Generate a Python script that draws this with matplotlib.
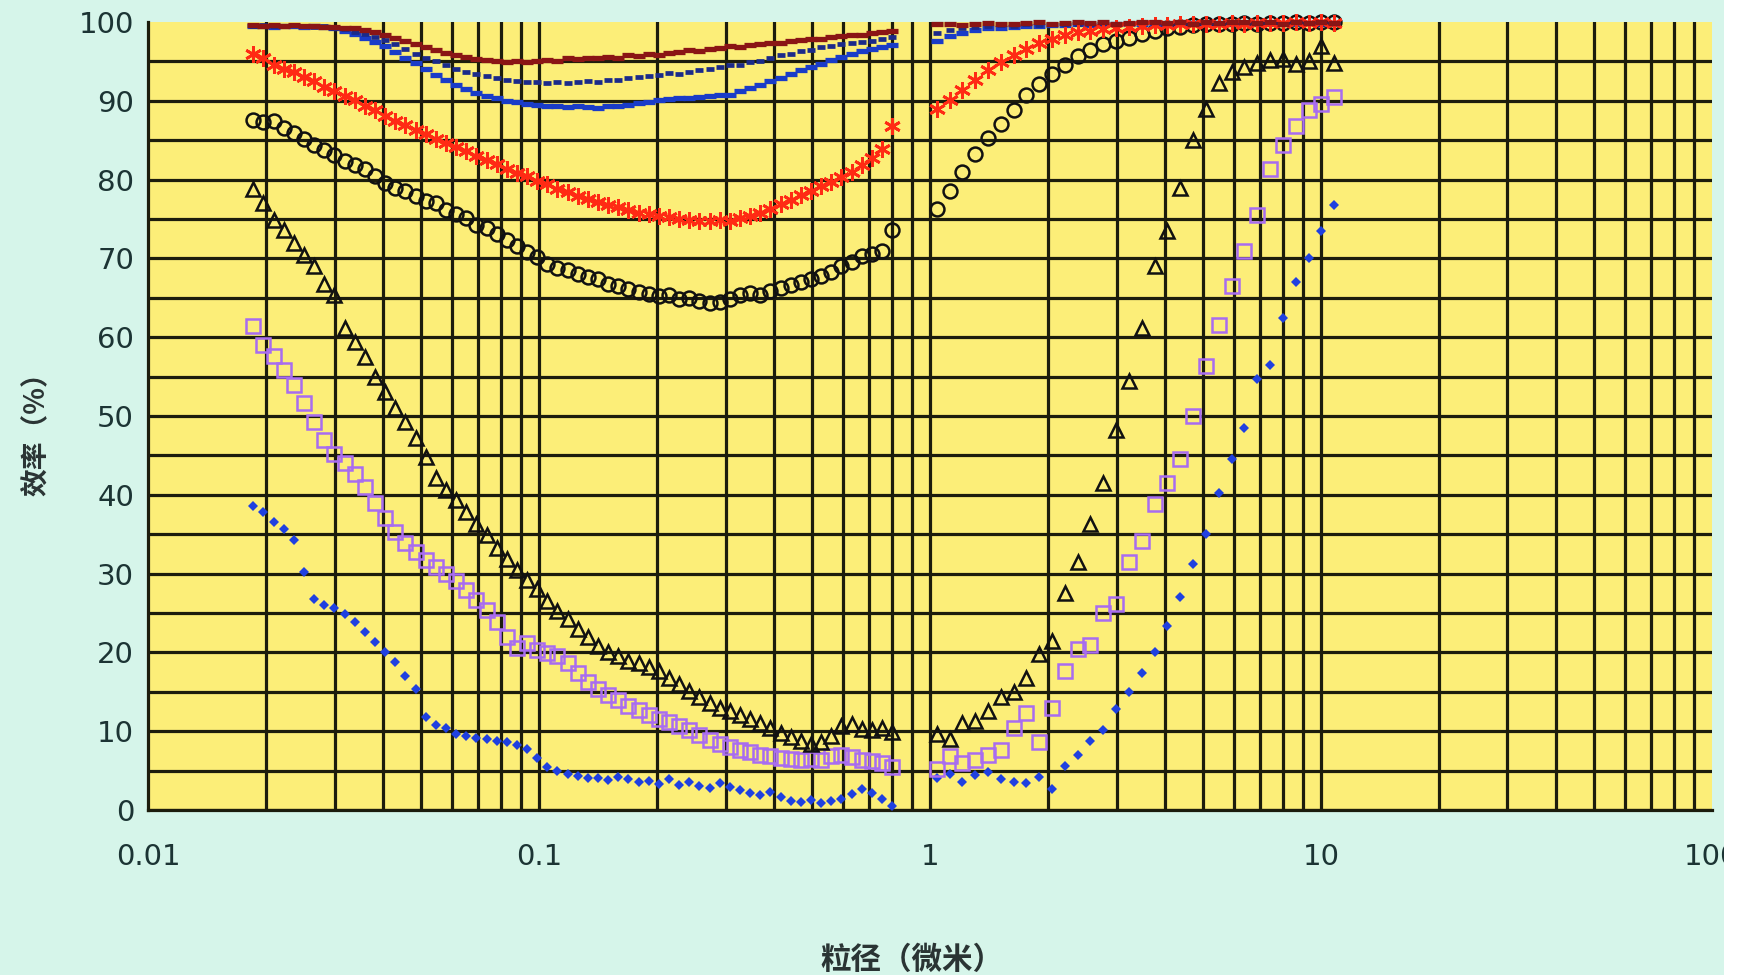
#!/usr/bin/env python3
"""Filter efficiency vs particle size (log x), 8 measured series."""
import matplotlib
matplotlib.use("Agg")
import matplotlib.pyplot as plt
from matplotlib.patches import Rectangle
import numpy as np

# ---------------------------------------------------------------------------
# data
# ---------------------------------------------------------------------------
# left instrument channels (um)
X_LEFT = [0.01860, 0.01974, 0.02096, 0.02225, 0.02362, 0.02507, 0.02661, 0.02825,
          0.02998, 0.03183, 0.03379, 0.03587, 0.03807, 0.04041, 0.04290, 0.04554,
          0.04834, 0.05131, 0.05447, 0.05782, 0.06138, 0.06516, 0.06918, 0.07343,
          0.07795, 0.08275, 0.08784, 0.09324, 0.09899, 0.1051, 0.1115, 0.1184,
          0.1257, 0.1334, 0.1416, 0.1503, 0.1596, 0.1694, 0.1798, 0.1909,
          0.2026, 0.2151, 0.2283, 0.2424, 0.2573, 0.2731, 0.2900, 0.3078,
          0.3267, 0.3468, 0.3682, 0.3908, 0.4149, 0.4404, 0.4675, 0.4962,
          0.5268, 0.5592, 0.5936, 0.6301, 0.6689, 0.7101, 0.7538, 0.8001]
# right instrument channels (um)
X_RIGHT = [1.040, 1.122, 1.209, 1.304, 1.406, 1.517, 1.636, 1.764,
           1.902, 2.052, 2.213, 2.387, 2.574, 2.776, 2.994, 3.228,
           3.482, 3.755, 4.050, 4.367, 4.710, 5.080, 5.478, 5.908,
           6.372, 6.871, 7.411, 7.992, 8.619, 9.296, 10.02, 10.81]

maroon_left = [99.6, 99.5, 99.6, 99.5, 99.6, 99.5, 99.5, 99.4, 99.4, 99.3, 99.2, 99.0,
               98.7, 98.4, 98.0, 97.6, 97.2, 96.8, 96.5, 96.1, 95.8, 95.6, 95.3, 95.2,
               95.0, 94.9, 95.0, 94.9, 95.1, 95.2, 95.1, 95.4, 95.3, 95.5, 95.4, 95.6,
               95.5, 95.8, 95.7, 95.9, 95.8, 96.1, 96.2, 96.4, 96.3, 96.6, 96.7, 96.9,
               96.8, 97.1, 97.2, 97.4, 97.3, 97.6, 97.7, 97.9, 97.8, 98.1, 98.2, 98.4,
               98.3, 98.6, 98.7, 98.9]
maroon_right = [99.7, 99.8, 99.6, 99.8, 99.9, 99.7, 99.8, 99.9, 100, 99.8, 99.9, 100,
                99.9, 100, 99.8, 99.9, 100, 100, 99.9, 100, 99.8, 100, 99.9, 100,
                100, 99.9, 100, 99.8, 100, 99.9, 100, 99.9]

navy_left = [99.5, 99.6, 99.5, 99.5, 99.6, 99.5, 99.4, 99.5, 99.3, 99.1, 98.8, 98.5,
             98.1, 97.7, 97.2, 96.6, 96.0, 95.5, 95.0, 94.5, 94.1, 93.7, 93.4, 93.1,
             92.9, 92.6, 92.5, 92.4, 92.4, 92.3, 92.4, 92.3, 92.4, 92.5, 92.4, 92.6,
             92.7, 92.9, 93.0, 93.2, 93.3, 93.5, 93.4, 93.7, 93.9, 94.0, 94.3, 94.5,
             94.6, 94.9, 95.1, 95.4, 95.8, 96.0, 96.3, 96.5, 96.8, 97.0, 97.2, 97.3,
             97.5, 97.6, 97.9, 98.1]
navy_right = [98.6, 99.0, 99.3, 99.4, 99.5, 99.6, 99.5, 99.7, 99.6, 99.8, 99.7, 99.8,
              99.7, 99.9, 99.8, 99.8, 99.9, 99.7, 99.8, 99.9, 99.8, 99.7, 99.9, 99.8,
              99.9, 99.7, 99.8, 99.9, 99.8, 99.9, 99.7, 99.8]

blue_left = [99.5, 99.5, 99.4, 99.5, 99.5, 99.4, 99.5, 99.4, 99.2, 98.9, 98.5, 98.0,
             97.5, 96.9, 96.2, 95.5, 94.8, 94.1, 93.3, 92.6, 92.0, 91.5, 91.0, 90.6,
             90.3, 90.0, 89.8, 89.6, 89.5, 89.4, 89.3, 89.2, 89.3, 89.2, 89.1, 89.3,
             89.4, 89.5, 89.7, 89.9, 90.1, 90.2, 90.3, 90.4, 90.5, 90.6, 90.7, 90.8,
             91.2, 91.6, 92.0, 92.5, 92.9, 93.4, 93.9, 94.3, 94.7, 95.2, 95.6, 96.0,
             96.3, 96.6, 96.8, 97.1]
blue_right = [97.6, 98.2, 98.6, 99.0, 99.2, 99.3, 99.4, 99.5, 99.5, 99.6, 99.6, 99.7,
              99.6, 99.7, 99.8, 99.7, 99.8, 99.8, 99.7, 99.8, 99.9, 99.8, 99.9, 99.8,
              99.9, 99.8, 99.9, 99.8, 99.9, 99.9, 99.8, 99.9]

red_left = [96.0, 95.4, 94.6, 94.1, 93.6, 93.0, 92.5, 91.8, 91.3, 90.6, 90.1, 89.4,
            88.9, 88.1, 87.4, 86.9, 86.3, 85.8, 85.1, 84.7, 84.1, 83.6, 83.0, 82.5,
            82.0, 81.4, 80.9, 80.4, 79.8, 79.4, 78.8, 78.4, 77.9, 77.5, 77.2, 76.8,
            76.5, 76.1, 75.8, 75.6, 75.4, 75.2, 75.0, 74.9, 74.8, 74.7, 74.9, 74.8,
            75.1, 75.4, 75.8, 76.3, 76.9, 77.4, 78.0, 78.6, 79.2, 79.7, 80.3, 81.0,
            81.8, 82.7, 83.9, 86.8]
red_right = [89.0, 90.1, 91.4, 92.7, 93.9, 94.9, 95.8, 96.6, 97.4, 97.9, 98.3, 98.7,
             98.9, 99.1, 99.3, 99.4, 99.5, 99.6, 99.6, 99.7, 99.7, 99.8, 99.8, 99.9,
             99.8, 99.9, 99.9, 99.9, 100, 99.9, 100, 99.9]

circle_left = [87.6, 87.3, 87.5, 86.6, 85.9, 85.2, 84.4, 83.8, 83.1, 82.4, 81.9, 81.3,
               80.5, 79.6, 78.9, 78.6, 77.9, 77.3, 77.0, 76.2, 75.6, 75.1, 74.3, 73.8,
               73.1, 72.4, 71.6, 70.8, 70.2, 69.3, 68.8, 68.5, 68.0, 67.6, 67.4, 66.8,
               66.5, 66.1, 65.7, 65.5, 65.2, 65.4, 64.9, 65.0, 64.6, 64.3, 64.5, 64.9,
               65.3, 65.6, 65.4, 65.9, 66.2, 66.6, 67.0, 67.4, 67.8, 68.3, 69.0, 69.6,
               70.3, 70.6, 70.9, 73.6]
circle_right = [76.3, 78.6, 81.0, 83.2, 85.3, 87.0, 88.8, 90.7, 92.1, 93.4, 94.6, 95.7,
                96.5, 97.2, 97.6, 98.0, 98.5, 98.9, 99.2, 99.4, 99.6, 99.7, 99.7, 99.8,
                99.9, 99.8, 99.9, 99.9, 100, 99.9, 100, 100]

tri_left = [78.8, 77.0, 74.9, 73.6, 72.0, 70.4, 69.0, 66.8, 65.3, 61.2, 59.4, 57.5,
            55.0, 53.1, 51.0, 49.3, 47.2, 44.8, 42.1, 40.6, 39.4, 37.8, 36.3, 34.9,
            33.2, 31.8, 30.5, 29.2, 28.0, 26.5, 25.3, 24.2, 23.0, 21.9, 20.8, 20.0,
            19.5, 18.9, 18.6, 18.2, 17.6, 16.8, 16.0, 15.1, 14.3, 13.6, 13.0, 12.6,
            12.1, 11.5, 11.0, 10.4, 9.8, 9.2, 8.8, 8.4, 8.6, 9.4, 10.6, 10.9,
            10.3, 10.1, 10.4, 9.9]
tri_right = [9.6, 9.0, 11.0, 11.3, 12.6, 14.4, 15.0, 16.8, 19.8, 21.5, 27.6, 31.5,
             36.3, 41.5, 48.2, 54.4, 61.2, 69.0, 73.5, 79.0, 85.0, 89.0, 92.3, 93.6,
             94.3, 94.8, 95.2, 95.3, 94.7, 95.0, 97.0, 94.8]

square_left = [61.4, 59.0, 57.6, 55.8, 53.9, 51.6, 49.3, 47.0, 45.2, 44.0, 42.6, 41.0,
               38.9, 37.1, 35.3, 33.9, 32.8, 31.7, 30.8, 30.0, 29.0, 27.9, 26.7, 25.4,
               23.9, 22.0, 20.6, 21.2, 20.3, 19.9, 19.5, 18.6, 17.4, 16.2, 15.3, 14.6,
               13.9, 13.2, 12.7, 12.1, 11.6, 11.2, 10.6, 10.1, 9.5, 8.9, 8.4, 8.0,
               7.6, 7.3, 7.0, 6.8, 6.6, 6.5, 6.4, 6.5, 6.4, 6.9, 7.0, 6.7,
               6.4, 6.2, 5.9, 5.4]
square_right = [5.2, 6.8, 6.0, 6.4, 7.0, 7.6, 10.4, 12.3, 8.6, 13.0, 17.6, 20.4,
                21.0, 25.0, 26.2, 31.5, 34.2, 38.8, 41.5, 44.5, 50.0, 56.4, 61.5, 66.5,
                71.0, 75.5, 81.3, 84.4, 86.8, 88.8, 89.6, 90.5]

dot_left = [38.6, 37.8, 36.5, 35.6, 34.3, 30.2, 26.8, 26.0, 25.6, 24.9, 23.8, 22.6,
            21.3, 20.1, 18.8, 17.0, 15.3, 11.8, 10.8, 10.4, 9.7, 9.4, 9.1, 9.0,
            8.7, 8.6, 8.3, 7.8, 6.6, 5.5, 4.9, 4.6, 4.3, 4.1, 4.0, 3.8,
            4.2, 3.9, 3.5, 3.7, 3.3, 3.9, 3.2, 3.6, 3.1, 2.8, 3.4, 2.9,
            2.5, 2.2, 1.9, 2.3, 1.6, 1.2, 1.0, 1.3, 0.9, 1.1, 1.4, 2.0,
            2.6, 2.2, 1.4, 0.5]
dot_right = [4.0, 4.6, 3.6, 4.4, 4.8, 3.9, 3.6, 3.4, 4.2, 2.6, 5.6, 7.0,
             8.8, 10.2, 12.8, 15.0, 17.4, 20.0, 23.4, 27.0, 31.2, 35.0, 40.2, 44.5,
             48.5, 54.7, 56.5, 62.4, 67.0, 70.0, 73.5, 76.8]

X_TICKS = [0.01, 0.1, 1, 10, 100]
X_TICKLABELS = ["0.01", "0.1", "1", "10", "100"]
Y_TICKS = [0, 10, 20, 30, 40, 50, 60, 70, 80, 90, 100]

# ---------------------------------------------------------------------------
# styling
# ---------------------------------------------------------------------------
BG = "#d6f5ea"
PLOT_BG = "#fcee78"
GRID = "#1c1c0c"
TICK_COLOR = "#1c3434"
CJK = ["Noto Sans CJK SC", "DejaVu Sans"]

plt.rcParams.update({
    "font.family": "DejaVu Sans",
    "font.size": 18,
})

fig = plt.figure(figsize=(17.41, 9.80), dpi=100, facecolor=BG)
ax = fig.add_axes([0.085, 0.1735, 0.8983, 0.804])
ax.set_facecolor(PLOT_BG)

ax.set_xscale("log")
ax.set_xlim(0.01, 100)
ax.set_ylim(0, 100)

# grid: every 5 % horizontally, every log minor step vertically (no line at the top / right edge)
for yv in np.arange(0, 100, 5):
    ax.axhline(yv, color=GRID, lw=2.3, zorder=1)
for dec in [0.01, 0.1, 1, 10]:
    for m in range(1, 10):
        if dec * m > 0.01:
            ax.axvline(dec * m, color=GRID, lw=2.3, zorder=1)

# (left values, right values, style, zorder)
series = [
    (dot_left, dot_right, dict(marker="D", ms=5.2, mew=0, color="#1f40e0"), 3),
    (square_left, square_right, dict(marker="s", ms=10, mew=1.8, mfc="none", mec="#a86cf0"), 4),
    (tri_left, tri_right, dict(marker="^", ms=10, mew=1.8, mfc="none", mec="#111111"), 5),
    (circle_left, circle_right, dict(marker="o", ms=10, mew=1.8, mfc="none", mec="#111111"), 6),
    (blue_left, blue_right, dict(marker="_", ms=8, mew=3.8, color="#1a3cc8"), 7),
    (navy_left, navy_right, dict(marker="_", ms=6, mew=3.4, color="#1b2a8a"), 8),
    (red_left, red_right, dict(marker=(6, 2, 0), ms=12, mew=2.0, color="#ff2a14"), 9),
    (maroon_left, maroon_right, dict(marker="_", ms=8, mew=3.8, color="#8a1515"), 10),
]
for yl, yr, style, z in series:
    ax.plot(X_LEFT + X_RIGHT, yl + yr, linestyle="none", clip_on=False,
            zorder=z, **style)

# axes cosmetics
for side in ["top", "right"]:
    ax.spines[side].set_visible(False)
ax.spines["left"].set_color(GRID)
ax.spines["left"].set_linewidth(2.3)
ax.spines["bottom"].set_color(GRID)
ax.spines["bottom"].set_linewidth(2.3)

ax.set_xticks(X_TICKS)
ax.set_xticklabels(X_TICKLABELS)
ax.xaxis.set_minor_locator(matplotlib.ticker.NullLocator())
ax.set_yticks(Y_TICKS)
ax.tick_params(axis="both", length=0, colors=TICK_COLOR, labelsize=21)
ax.tick_params(axis="x", pad=24)
ax.tick_params(axis="y", pad=10)

fig.text(0.524, 0.020, "粒径（微米）", ha="center", va="center",
         fontsize=22, family=CJK, fontweight="bold", color="#2a3434")
fig.text(0.021, 0.564, "效率（%）", ha="center", va="center", rotation=90,
         fontsize=20, family=CJK, fontweight="bold", color="#2a3434")

# thin white strips at the right and bottom edge of the original screenshot
fig.patches.append(Rectangle((0.9905, 0), 0.0095, 1, transform=fig.transFigure,
                             facecolor="white", edgecolor="none", zorder=20))
fig.patches.append(Rectangle((0, 0), 1, 0.005, transform=fig.transFigure,
                             facecolor="white", edgecolor="none", zorder=20))

fig.savefig("out.png", dpi=100, facecolor=BG)
plt.close(fig)
